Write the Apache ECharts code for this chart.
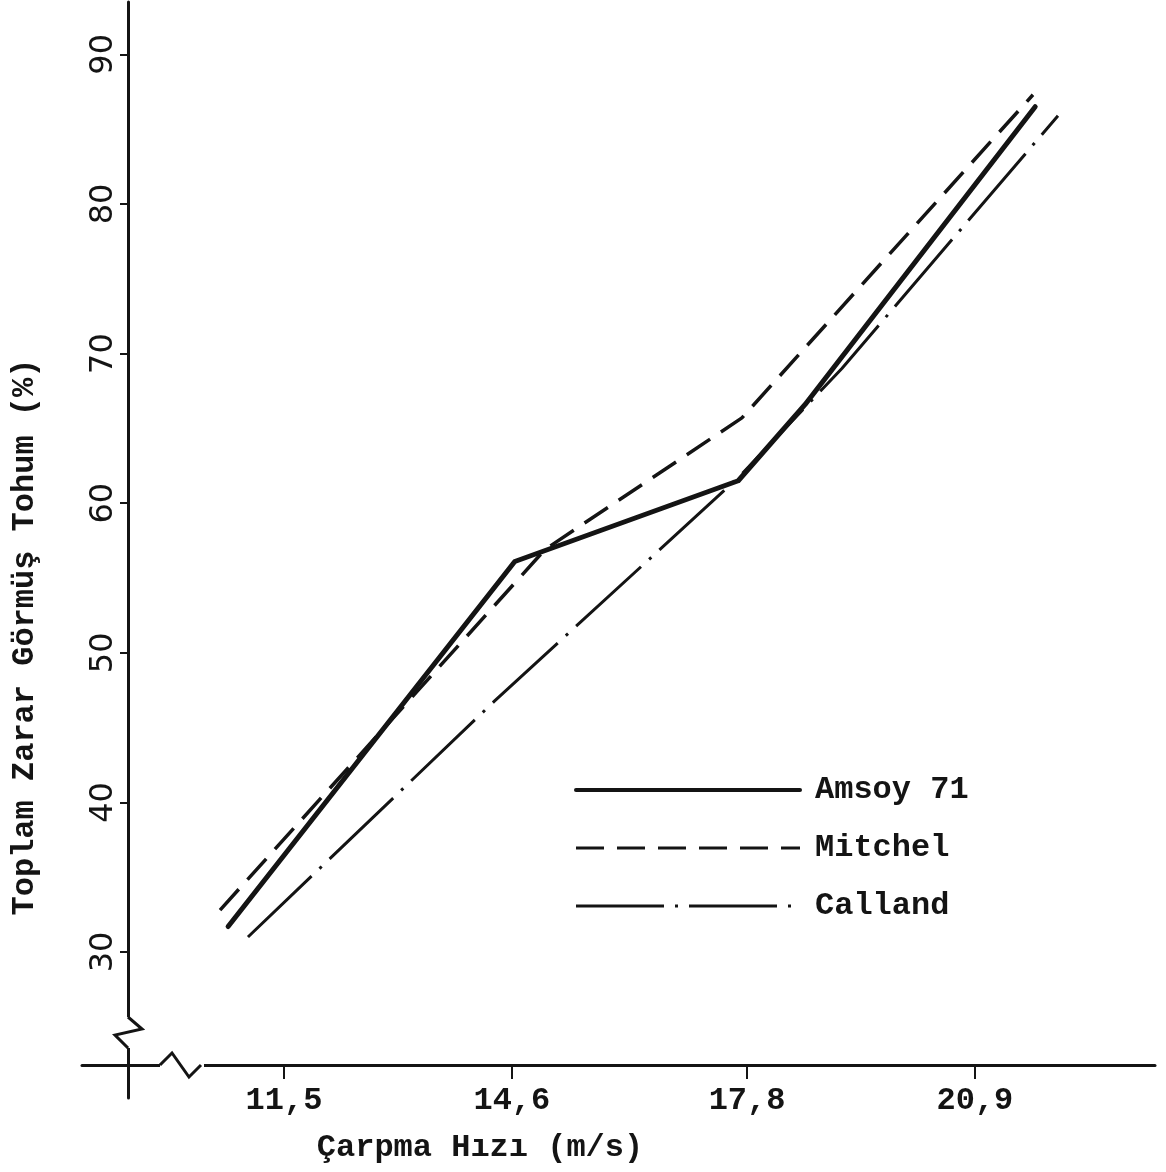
<!DOCTYPE html>
<html>
<head>
<meta charset="utf-8">
<script src="https://cdn.jsdelivr.net/npm/echarts@6/dist/echarts.min.js"></script>
<style>
  html, body { margin: 0; padding: 0; background: #fff; }
  #chart { width: 1166px; height: 1172px; }
</style>
</head>
<body>
<div id="chart"></div>
<script>
// eksen tick degerleri
var speedTicks = [11.5, 14.6, 17.8, 20.9];
var percentTicks = [30, 40, 50, 60, 70, 80, 90];

// seriler: [carpma hizi (m/s), toplam zarar gormus tohum (%)]
var seriesNames = ['Amsoy 71', 'Mitchel', 'Calland'];
var amsoy71 = [[10.74, 31.7], [14.64, 56.1], [17.68, 61.5], [18.59, 66.6], [21.72, 86.5]];
var mitchel = [[10.63, 32.8], [15.05, 56.9], [17.73, 65.7], [21.69, 87.3]];
var calland = [[11.01, 31.0], [14.37, 46.8], [17.70, 61.8], [19.09, 69.0], [22.03, 85.9]];

var ink = '#141414';
var typeFont = '"Liberation Mono", "DejaVu Sans Mono", monospace';

var chart = echarts.init(document.getElementById('chart'), null, { renderer: 'canvas' });

var option = {
  backgroundColor: '#ffffff',
  animation: false,
  grid: { left: 82, right: 11, top: 2, bottom: 74 },
  legend: {
    orient: 'vertical',
    left: 569,
    top: 769,
    itemWidth: 224,
    itemHeight: 14,
    itemGap: 26,
    // cizgi simgesinin ortasindaki noktayi gizle
    itemStyle: { color: 'rgba(0,0,0,0)', borderColor: 'rgba(0,0,0,0)', borderWidth: 0 },
    textStyle: {
      color: ink,
      fontFamily: typeFont,
      fontWeight: 'bold',
      fontSize: 32,
      lineHeight: 30,
      padding: [0, 0, 0, 10]
    },
    data: [
      { name: seriesNames[0], lineStyle: { width: 4 } },
      { name: seriesNames[1], lineStyle: { width: 3 } },
      { name: seriesNames[2], lineStyle: { width: 3 } }
    ]
  },
  xAxis: {
    type: 'value',
    min: 8.752,
    max: 23.35,
    offset: -33,
    splitLine: { show: false },
    axisLine: { lineStyle: { color: ink, width: 3 } },
    axisTick: {
      length: 14,
      customValues: speedTicks,
      lineStyle: { color: ink, width: 2 }
    },
    axisLabel: {
      customValues: speedTicks,
      margin: 20,
      color: ink,
      fontFamily: typeFont,
      fontWeight: 'bold',
      fontSize: 32,
      formatter: function (v) { return String(v).replace('.', ','); }
    }
  },
  yAxis: {
    type: 'value',
    min: 20.24,
    max: 93.5,
    offset: -46,
    splitLine: { show: false },
    axisLine: { lineStyle: { color: ink, width: 3 } },
    axisTick: {
      length: 8,
      customValues: percentTicks,
      lineStyle: { color: ink, width: 2 }
    },
    axisLabel: {
      customValues: percentTicks,
      rotate: 90,
      margin: 8,
      color: ink,
      fontFamily: '"DejaVu Sans", sans-serif',
      fontSize: 32
    }
  },
  series: [
    {
      name: seriesNames[0],
      type: 'line',
      data: amsoy71,
      symbol: 'none',
      lineStyle: { color: ink, width: 5, cap: 'round', join: 'round' },
      itemStyle: { color: ink }
    },
    {
      name: seriesNames[1],
      type: 'line',
      data: mitchel,
      symbol: 'none',
      lineStyle: { color: ink, width: 3.5, type: [28, 13], cap: 'butt' },
      itemStyle: { color: ink }
    },
    {
      name: seriesNames[2],
      type: 'line',
      data: calland,
      symbol: 'none',
      lineStyle: { color: ink, width: 3, type: [88, 11, 3, 11], cap: 'butt' },
      itemStyle: { color: ink }
    }
  ],
  graphic: [
    // eksen kirilma isaretleri
    { type: 'rect', z: 100, shape: { x: 160, y: 1061, width: 44, height: 8 }, style: { fill: '#fff' } },
    { type: 'polyline', z: 101, shape: { points: [[160, 1065], [172, 1053], [189, 1077], [201, 1065]] },
      style: { stroke: ink, lineWidth: 3, fill: null } },
    { type: 'rect', z: 100, shape: { x: 124, y: 1017, width: 8, height: 31 }, style: { fill: '#fff' } },
    { type: 'polyline', z: 101, shape: { points: [[128, 1017], [142, 1029], [115, 1035], [128, 1048]] },
      style: { stroke: ink, lineWidth: 3, fill: null } },
    // eksen adlari
    {
      type: 'text', z: 101, x: 25, y: 637, rotation: Math.PI / 2,
      style: {
        text: 'Toplam Zarar Görmüş Tohum (%)',
        font: 'bold 32px ' + typeFont,
        fill: ink, textAlign: 'center', textVerticalAlign: 'middle'
      }
    },
    {
      type: 'text', z: 101, x: 480, y: 1148,
      style: {
        text: 'Çarpma Hızı (m/s)',
        font: 'bold 32px ' + typeFont,
        fill: ink, textAlign: 'center', textVerticalAlign: 'middle'
      }
    }
  ]
};

chart.setOption(option);
</script>
</body>
</html>
